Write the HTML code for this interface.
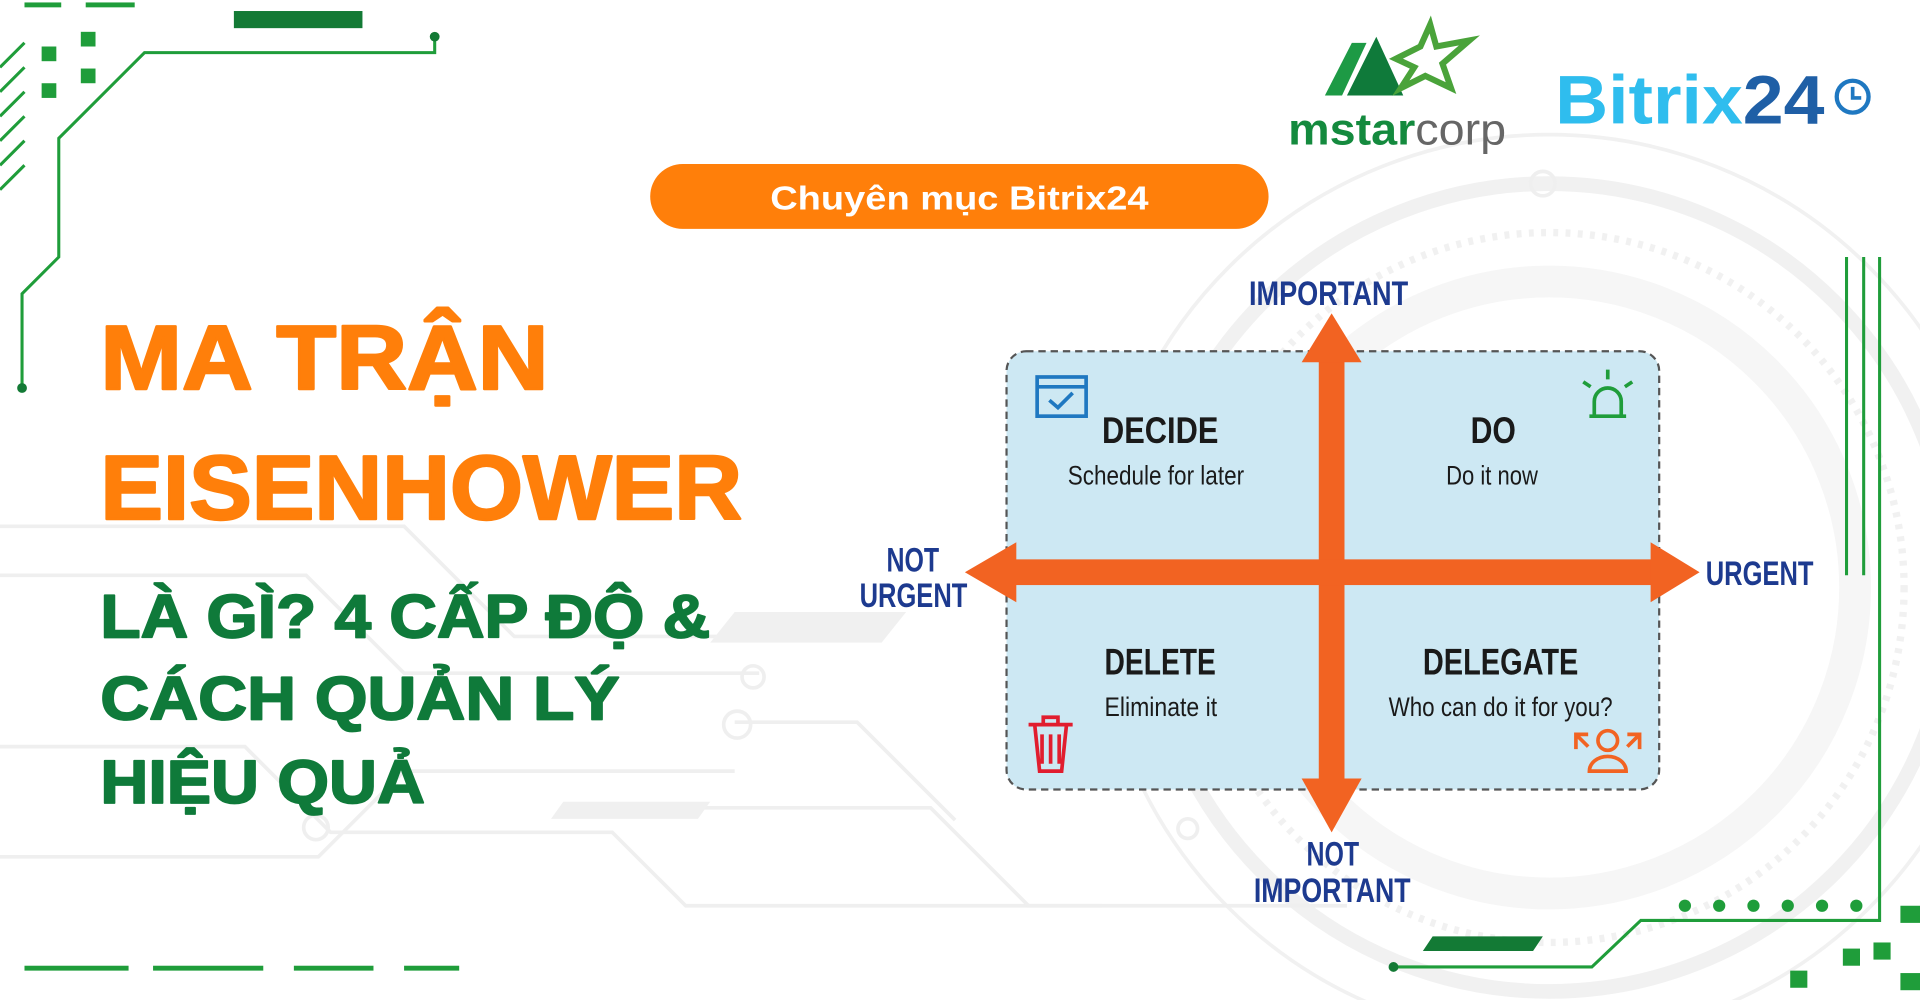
<!DOCTYPE html>
<html><head><meta charset="utf-8"><style>html,body{margin:0;padding:0;background:#fff;overflow:hidden}svg{display:block}</style></head>
<body>
<svg width="1920" height="1000" viewBox="0 0 1568 817" preserveAspectRatio="none" xmlns="http://www.w3.org/2000/svg">
<rect width="1568" height="817" fill="#fff"/>
<g fill="none" stroke="#f1f1f1">
<circle cx="1265" cy="480" r="330" stroke-width="12"/>
<circle cx="1265" cy="480" r="290" stroke-width="6" stroke-dasharray="4 6"/>
<circle cx="1265" cy="480" r="250" stroke-width="26" stroke="#f6f6f6"/>
<circle cx="1265" cy="480" r="370" stroke-width="3"/>
</g>
<g stroke="#efefef" stroke-width="3" fill="none">
<path d="M0 430 L330 430 L420 520 L700 520"/>
<path d="M0 470 L250 470 L330 550 L620 550"/>
<path d="M0 700 L260 700 L330 630 L600 630"/>
<path d="M0 610 L200 610 L270 680 L500 680 L560 740 L900 740"/>
<path d="M460 660 L760 660 L840 740 L1100 740"/>
<path d="M600 590 L700 590 L780 670"/>
<circle cx="615" cy="553" r="9"/><circle cx="602" cy="592" r="11"/><circle cx="258" cy="676" r="10"/><circle cx="970" cy="677" r="8"/><circle cx="1260" cy="150" r="10"/>
</g>
<g fill="#f0f0f0"><path d="M600 500 h140 l-20 25 h-140z"/><path d="M460 655 h120 l-10 14 h-120z"/></g>
<g fill="#1f9d3a">
<rect x="191" y="9" width="105" height="14" fill="#137a35"/>
<rect x="34" y="38" width="12" height="12"/><rect x="66" y="26" width="12" height="12"/><rect x="34" y="68" width="12" height="12"/><rect x="66" y="56" width="12" height="12"/>
<rect x="20" y="2" width="30" height="4"/><rect x="70" y="2" width="40" height="4"/>
</g>
<g stroke="#1f9d3a" stroke-width="2.5" fill="none">
<path d="M355 30 L355 43 L118 43 L48 113 L48 210 L18 240 L18 315"/>
<path d="M0 55 L20 35 M0 75 L20 55 M0 95 L20 75 M0 115 L20 95 M0 135 L20 115 M0 155 L20 135"/>
</g>
<circle cx="355" cy="30" r="4" fill="#137a35"/><circle cx="18" cy="317" r="4" fill="#137a35"/>
<g fill="#1f9d3a">
<rect x="20" y="789" width="85" height="4"/><rect x="125" y="789" width="90" height="4"/><rect x="240" y="789" width="65" height="4"/><rect x="330" y="789" width="45" height="4"/>
<circle cx="1376" cy="740" r="5"/><circle cx="1404" cy="740" r="5"/><circle cx="1432" cy="740" r="5"/><circle cx="1460" cy="740" r="5"/><circle cx="1488" cy="740" r="5"/><circle cx="1516" cy="740" r="5"/>
<rect x="1552" y="740" width="16" height="14"/><rect x="1505" y="775" width="14" height="14"/><rect x="1530" y="770" width="14" height="14"/><rect x="1462" y="793" width="14" height="14"/><rect x="1552" y="795" width="16" height="14"/>
<path d="M1170 765 h90 l-8 12 h-90z" fill="#137a35"/>
</g>
<g stroke="#1f9d3a" stroke-width="2.5" fill="none">
<path d="M1138 790 L1300 790 L1340 752 L1535 752 L1535 210"/>
<path d="M1508 210 L1508 470 M1522 210 L1522 470"/>
</g>
<circle cx="1138" cy="790" r="4" fill="#137a35"/>
<g>
<path d="M1082 78 L1104 35 L1116 35 L1096 78Z" fill="#1d9a45"/>
<path d="M1100 78 L1124 30 L1146 78Z" fill="#0f7a3a"/>
<path d="M1140 48 L1160 38 L1168 20 L1173 38 L1200 33 L1178 52 L1185 72 L1164 62 L1144 72 L1155 55Z" fill="none" stroke="#4aa33a" stroke-width="5"/>
<text x="1052" y="118" textLength="178" lengthAdjust="spacingAndGlyphs" font-family="Liberation Sans, sans-serif" font-weight="bold" font-size="36" fill="#148a3e">mstar<tspan fill="#666" font-weight="normal">corp</tspan></text>
<text x="1270" y="101" textLength="220" lengthAdjust="spacingAndGlyphs" font-family="Liberation Sans, sans-serif" font-weight="bold" font-size="56" fill="#2fbdee">Bitrix<tspan fill="#1f5fa6">24</tspan></text>
<circle cx="1513" cy="79" r="13" fill="none" stroke="#1f78c1" stroke-width="3.5"/>
<path d="M1513 71 V80 H1520" stroke="#1f78c1" stroke-width="3" fill="none"/>
</g>
<rect x="531" y="134" width="505" height="53" rx="26.5" fill="#ff7f0a"/>
<text x="629" y="171" textLength="309" lengthAdjust="spacingAndGlyphs" font-family="Liberation Sans, sans-serif" font-weight="bold" font-size="27" fill="#fff">Chuyên mục Bitrix24</text>
<g font-family="Liberation Sans, sans-serif" font-weight="bold" stroke-linejoin="round">
<text x="82" y="318" font-size="74" fill="#ff7f0a" stroke="#ff7f0a" stroke-width="2" textLength="366" lengthAdjust="spacingAndGlyphs">MA TRẬN</text>
<text x="82" y="424" font-size="74" fill="#ff7f0a" stroke="#ff7f0a" stroke-width="2" textLength="524" lengthAdjust="spacingAndGlyphs">EISENHOWER</text>
<text x="82" y="521" font-size="50" fill="#0f7a3a" stroke="#0f7a3a" stroke-width="1.5" textLength="498" lengthAdjust="spacingAndGlyphs">LÀ GÌ? 4 CẤP ĐỘ &amp;</text>
<text x="82" y="588" font-size="50" fill="#0f7a3a" stroke="#0f7a3a" stroke-width="1.5" textLength="424" lengthAdjust="spacingAndGlyphs">CÁCH QUẢN LÝ</text>
<text x="82" y="656" font-size="50" fill="#0f7a3a" stroke="#0f7a3a" stroke-width="1.5" textLength="265" lengthAdjust="spacingAndGlyphs">HIỆU QUẢ</text>
</g>
<rect x="822" y="287" width="533" height="358" rx="16" fill="#cde8f3" stroke="#555" stroke-width="1.8" stroke-dasharray="6 4"/>
<g fill="#f26322">
<rect x="1077" y="290" width="21" height="350"/>
<path d="M1063 296 L1087.5 256 L1112 296Z"/>
<path d="M1063 636 L1087.5 680 L1112 636Z"/>
<rect x="825" y="457" width="530" height="21"/>
<path d="M830 443 L788 467.5 L830 492Z"/>
<path d="M1348 443 L1388 467.5 L1348 492Z"/>
</g>
<g font-family="Liberation Sans, sans-serif" font-weight="bold" fill="#1d3a8f" font-size="28" lengthAdjust="spacingAndGlyphs">
<text x="1020" y="249" textLength="130" lengthAdjust="spacingAndGlyphs">IMPORTANT</text>
<text x="1067" y="707" textLength="43" lengthAdjust="spacingAndGlyphs">NOT</text>
<text x="1024" y="737" textLength="128" lengthAdjust="spacingAndGlyphs">IMPORTANT</text>
<text x="724" y="467" textLength="43" lengthAdjust="spacingAndGlyphs">NOT</text>
<text x="702" y="496" textLength="88" lengthAdjust="spacingAndGlyphs">URGENT</text>
<text x="1393" y="478" textLength="88" lengthAdjust="spacingAndGlyphs">URGENT</text>
</g>
<g font-family="Liberation Sans, sans-serif" fill="#1a1a1a">
<text x="900" y="362" font-size="30" font-weight="bold" textLength="95" lengthAdjust="spacingAndGlyphs">DECIDE</text>
<text x="872" y="396" font-size="22" textLength="144" lengthAdjust="spacingAndGlyphs">Schedule for later</text>
<text x="1201" y="362" font-size="30" font-weight="bold" textLength="37" lengthAdjust="spacingAndGlyphs">DO</text>
<text x="1181" y="396" font-size="22" textLength="75" lengthAdjust="spacingAndGlyphs">Do it now</text>
<text x="902" y="551" font-size="30" font-weight="bold" textLength="91" lengthAdjust="spacingAndGlyphs">DELETE</text>
<text x="902" y="585" font-size="22" textLength="92" lengthAdjust="spacingAndGlyphs">Eliminate it</text>
<text x="1162" y="551" font-size="30" font-weight="bold" textLength="127" lengthAdjust="spacingAndGlyphs">DELEGATE</text>
<text x="1134" y="585" font-size="22" textLength="183" lengthAdjust="spacingAndGlyphs">Who can do it for you?</text>
</g>
<g fill="none" stroke-width="3">
<rect x="847" y="308" width="40" height="32" stroke="#1f78c1"/><line x1="847" y1="316" x2="887" y2="316" stroke="#1f78c1"/>
<path d="M857 327 L864 333 L876 321" stroke="#1f78c1"/>
<path d="M1298 340 h30 M1302 340 v-12 a11 11 0 0 1 22 0 v12 M1313 302 v8 M1293 312 l6 4 M1333 312 l-6 4" stroke="#1f9d3a"/>
<path d="M840 592 h36 M845 592 l4 38 h18 l4 -38 M851 600 v24 M858 600 v24 M865 600 v24 M852 592 v-6 h12 v6" stroke="#e11d2e"/>
<circle cx="1313" cy="605" r="8" stroke="#f26322"/><path d="M1298 630 a15 12 0 0 1 30 0z M1287 612 v-12 h10 M1287 600 l10 10 M1339 612 v-12 h-10 M1339 600 l-10 10" stroke="#f26322"/>
</g>
</svg>
</body></html>
